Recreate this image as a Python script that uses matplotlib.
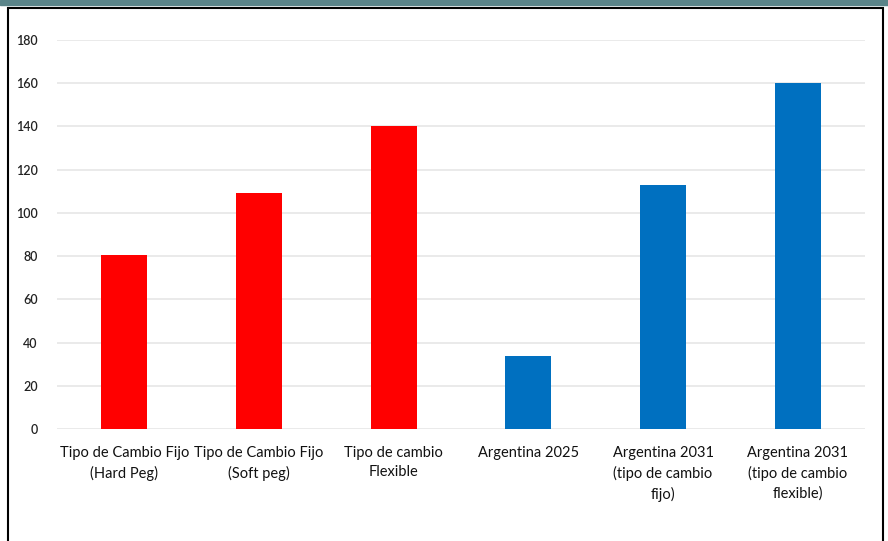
import matplotlib.pyplot as plt
from matplotlib.patches import Rectangle

# Deuda / PBI por régimen cambiario y proyecciones para Argentina
categorias = [
    'Tipo de Cambio Fijo\n(Hard Peg)',
    'Tipo de Cambio Fijo\n(Soft peg)',
    'Tipo de cambio\nFlexible',
    'Argentina 2025',
    'Argentina 2031\n(tipo de cambio\nfijo)',
    'Argentina 2031\n(tipo de cambio\nflexible)',
]
valores = [80.5, 109, 140, 34, 113, 160]
colores = ['#ff0000', '#ff0000', '#ff0000', '#0070c0', '#0070c0', '#0070c0']
yticks = [0, 20, 40, 60, 80, 100, 120, 140, 160, 180]

plt.rcParams['font.family'] = ['Lato', 'DejaVu Sans']

fig = plt.figure(figsize=(8.88, 5.41), dpi=100)
ax = fig.add_axes([57 / 888, 1 - 429 / 541, 808 / 888, 389 / 541])

x = range(len(categorias))
ax.bar(x, valores, width=0.34, color=colores, zorder=3)

ax.set_ylim(0, 180)
ax.set_xlim(-0.5, len(categorias) - 0.5)
ax.set_yticks(yticks)
ax.set_xticks(list(x))
ax.set_xticklabels(categorias, fontsize=10.5, color='#111111', linespacing=1.5)
ax.tick_params(axis='y', length=0, pad=14, labelsize=9, labelcolor='#222222')
ax.tick_params(axis='x', length=0, pad=12)
for lbl in ax.get_yticklabels():
    lbl.set_fontweight('semibold')

ax.grid(axis='y', color='#e6e6e6', linewidth=1.2, zorder=0)
for s in ax.spines.values():
    s.set_visible(False)

# franja superior y marco negro
fig.patches.append(Rectangle((0, 1 - 5 / 541), 1, 5 / 541, transform=fig.transFigure,
                             color='#5a8489', zorder=0))
fig.patches.append(Rectangle((8 / 888, -0.05), 875 / 888, 1 - 8 / 541 + 0.05,
                             transform=fig.transFigure, fill=False,
                             edgecolor='black', linewidth=1.5, zorder=1))

fig.savefig('out.png', dpi=100)
